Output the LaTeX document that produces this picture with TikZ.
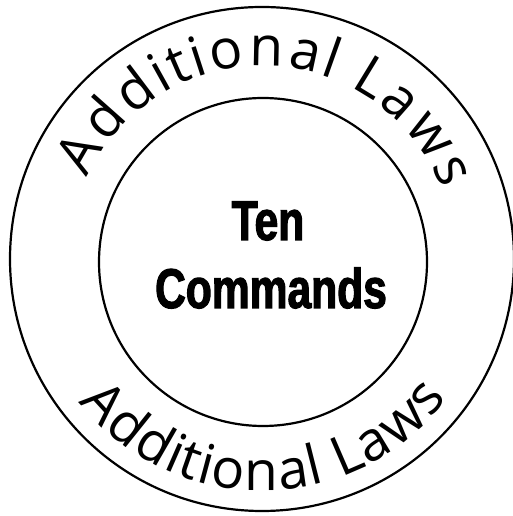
\documentclass[tikz,border=0pt]{standalone}
\usepackage{fontspec}
\setmainfont{Open Sans}
\newfontfamily\condfont[FakeStretch=0.76,BoldFeatures={FakeStretch=0.76,FakeBold=2}]{Liberation Sans}
\newcommand\arcfont{\fontsize{55}{66}\selectfont}
\usetikzlibrary{decorations.text}
\tikzset{
  ring/.style={circle, draw, line width=2.2pt, inner sep=0pt},
  bigtitle/.style={anchor=base, inner sep=0pt, font=\condfont\bfseries\fontsize{56}{68}\selectfont},
  arclabel/.style={decorate, decoration={text effects along path, text={#1},
      text effects/.cd, text along path, fit text to path, characters={font=\arcfont}}}
}
\begin{document}
\begin{tikzpicture}[x=1pt,y=1pt]
\useasboundingbox (0,0) rectangle (512,516);
\coordinate (c) at (262,257);
\node[ring, minimum size=504pt] (outer) at (c) {};
\node[ring, minimum size=328pt] (inner) at (263,254) {};
\node[bigtitle] (ten) at (268,276) {Ten};
\node[bigtitle] (cmd) at (271,208) {Commands};
\path[shift={(c)}, arclabel={Additional Laws}]
  (155:193) arc[start angle=155, end angle=21, radius=193];
\path[shift={(c)}, arclabel={Additional Laws}]
  (218:232) arc[start angle=218, end angle=323, radius=232];
\end{tikzpicture}
\end{document}
